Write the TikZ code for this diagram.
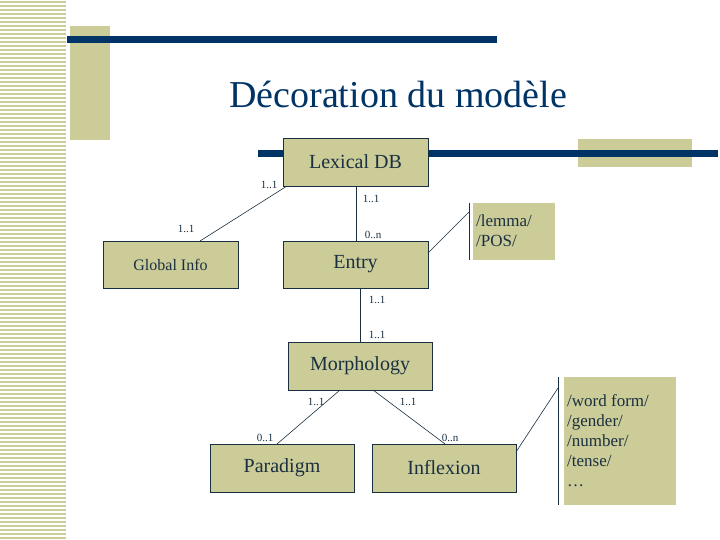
\documentclass[tikz,border=0pt]{standalone}
\usepackage{fontspec}
\setmainfont{Liberation Serif}
\definecolor{tan}{HTML}{CCCC99}
\definecolor{navy}{HTML}{003366}
\definecolor{ink}{HTML}{1A3040}
\begin{document}
\begin{tikzpicture}[x=1pt,y=-1pt,
  box/.style={draw=ink,fill=tan,line width=0.8pt,text=ink,font=\fontsize{20}{22}\selectfont},
  note/.style={fill=tan,text=ink,align=left,font=\fontsize{17}{20}\selectfont,inner sep=3pt},
  card/.style={font=\fontsize{11}{12}\selectfont,text=ink,inner sep=1pt},
  link/.style={draw=ink,line width=0.6pt}]
\useasboundingbox (0,0) rectangle (720,540);
\fill[white] (0,0) rectangle (720,540);
\foreach \i in {0,...,134}{\draw[tan,line width=1.2pt] (0,{\i*4+2}) -- (66,{\i*4+2});}
% decorations
\fill[tan] (70,26) rectangle (110,140);
\fill[navy] (67,36) rectangle (497,43);
\fill[tan] (578,139) rectangle (692,167);
\fill[navy] (258,150) rectangle (718,157);
\node[text=navy,font=\fontsize{38}{40}\selectfont] (title) at (398,94) {Décoration du modèle};
% boxes
\path[box] (283,138) rectangle (428,186) node[midway,draw=none] (lex) {Lexical DB};
\coordinate (lexNW) at (283,138); \coordinate (lexSE) at (428,186);
\path[box] (103,241) rectangle (238,288) node[midway,draw=none,font=\fontsize{16}{18}\selectfont] (glob) {Global Info};
\path[box] (283,241) rectangle (428,288) node[midway,draw=none] (entry) {Entry};
\path[box] (288,342) rectangle (432,390) node[midway,draw=none] (morph) {Morphology};
\path[box] (210,444) rectangle (354,492) node[midway,draw=none] (para) {Paradigm};
\path[box] (372,444) rectangle (516,492) node[midway,draw=none] (infl) {Inflexion};
\fill[tan] (473,203) rectangle (555,260);
\node[note,anchor=west] (lemma) at (473,231) {/lemma/\\/POS/};
\fill[tan] (564,377) rectangle (676,505);
\node[note,anchor=west] (wf) at (564,441) {/word form/\\/gender/\\/number/\\/tense/\\…};
% coordinates
\coordinate (a1) at (287,186); \coordinate (a2) at (200,241);
\coordinate (b1) at (356,186); \coordinate (b2) at (356,241);
\coordinate (c1) at (428,253); \coordinate (c2) at (469,212);
\coordinate (d1) at (360,288); \coordinate (d2) at (360,342);
\coordinate (e1) at (340,390); \coordinate (e2) at (277,444);
\coordinate (f1) at (373,390); \coordinate (f2) at (445,444);
\coordinate (g1) at (516,452); \coordinate (g2) at (558,388);
\coordinate (l1) at (469,203); \coordinate (l2) at (469,260);
\coordinate (w1) at (558,377); \coordinate (w2) at (558,505);
\draw[link] (a1) -- (a2);
\draw[link] (b1) -- (b2);
\draw[link] (c1) -- (c2);
\draw[link] (d1) -- (d2);
\draw[link] (e1) -- (e2);
\draw[link] (f1) -- (f2);
\draw[link] (g1) -- (g2);
\draw[link] (l1) -- (l2);
\draw[link] (w1) -- (w2);
% cardinalities
\node[card] (k1) at (269,185) {1..1};
\node[card] (k2) at (371,199) {1..1};
\node[card] (k3) at (186,229) {1..1};
\node[card] (k4) at (373,235) {0..n};
\node[card] (k5) at (377,300) {1..1};
\node[card] (k6) at (377,335) {1..1};
\node[card] (k7) at (316,402) {1..1};
\node[card] (k8) at (408,402) {1..1};
\node[card] (k9) at (265,438) {0..1};
\node[card] (k10) at (450,438) {0..n};
\end{tikzpicture}
\end{document}
